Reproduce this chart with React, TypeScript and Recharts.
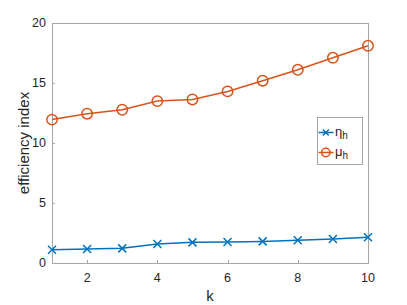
import React from "react";
import { LineChart, Line, XAxis, YAxis, Legend, ReferenceArea } from "recharts";

const K = [1, 2, 3, 4, 5, 6, 7, 8, 9, 10];
const ETA = [1.11, 1.17, 1.22, 1.58, 1.72, 1.75, 1.8, 1.89, 2.0, 2.14];
const MU = [11.95, 12.44, 12.77, 13.49, 13.63, 14.3, 15.19, 16.1, 17.1, 18.1];
const X_TICKS = [2, 4, 6, 8, 10];
const Y_TICKS = [0, 5, 10, 15, 20];

const BLUE = "#0072BD";
const ORANGE = "#D95319";
const AXIS = "#a6a6a6";
const TXT = "#262626";
const FONT = "'Liberation Sans', Arial, Helvetica, sans-serif";

const rows = K.map((k, i) => ({ k, eta: ETA[i], mu: MU[i] }));

const Cross = (props: any) => {
  const { cx, cy, index } = props;
  if (cx == null || cy == null) return <g key={index} />;
  const s = 4;
  return (
    <path key={index} d={`M${cx - s},${cy - s}L${cx + s},${cy + s}M${cx - s},${cy + s}L${cx + s},${cy - s}`}
      stroke={BLUE} strokeWidth={1.5} fill="none" />
  );
};

const Ring = (props: any) => {
  const { cx, cy, index } = props;
  if (cx == null || cy == null) return <g key={index} />;
  return <circle key={index} cx={cx} cy={cy} r={5.2} stroke={ORANGE} strokeWidth={1.5} fill="none" />;
};

// axes box drawn as thin filled rects (matlab "box on")
const Frame = (p: any) => {
  const x = Math.round(p.x), y = Math.round(p.y);
  const w = Math.round(p.width), h = Math.round(p.height);
  return (
    <g>
      <rect x={x} y={y} width={w + 1} height={1} fill={AXIS} />
      <rect x={x} y={y + h} width={w + 1} height={1} fill={AXIS} />
      <rect x={x} y={y} width={1} height={h + 1} fill={AXIS} />
      <rect x={x + w} y={y} width={1} height={h + 1} fill={AXIS} />
    </g>
  );
};

// inward tick marks + labels
const BottomTick = (p: any) => (
  <g>
    <rect x={Math.round(p.x)} y={p.y - 3} width={1} height={3} fill={AXIS} />
    <text x={p.x} y={p.y + 10} dy="0.71em" textAnchor="middle" fontSize={12.5} fill={TXT} fontFamily={FONT}>
      {p.payload.value}
    </text>
  </g>
);
const LeftTick = (p: any) => (
  <g>
    <rect x={p.x} y={Math.round(p.y)} width={3} height={1} fill={AXIS} />
    <text x={p.x - 6} y={p.y} dy="0.355em" textAnchor="end" fontSize={12.5} fill={TXT} fontFamily={FONT}>
      {p.payload.value}
    </text>
  </g>
);
const TopTick = (p: any) => <rect x={Math.round(p.x)} y={p.y} width={1} height={3} fill={AXIS} />;
const RightTick = (p: any) => <rect x={p.x - 3} y={Math.round(p.y)} width={3} height={1} fill={AXIS} />;

const renderLegend = () => (
  <div style={{ width: 44, height: 46, border: `1px solid ${AXIS}`, background: "#fff" }}>
    <svg width={44} height={46} style={{ display: "block" }}>
      <line x1={0.5} x2={15.5} y1={14.5} y2={14.5} stroke={BLUE} strokeWidth={1.5} />
      <path d="M4.8,11.5L10.8,17.5M4.8,17.5L10.8,11.5" stroke={BLUE} strokeWidth={1.5} />
      <text x={17} y={18} fontSize={13} fill={TXT} fontFamily={FONT}>
        η<tspan dy={3} fontSize={10}>h</tspan>
      </text>
      <line x1={0.5} x2={15.5} y1={34.5} y2={34.5} stroke={ORANGE} strokeWidth={1.5} />
      <circle cx={7.8} cy={34.5} r={4.2} stroke={ORANGE} strokeWidth={1.5} fill="none" />
      <text x={17} y={38} fontSize={13} fill={TXT} fontFamily={FONT}>
        μ<tspan dy={3} fontSize={10}>h</tspan>
      </text>
    </svg>
  </div>
);

const yLabel = (props: any) => {
  const vb = props.viewBox || {};
  const cy = (vb.y ?? 23) + (vb.height ?? 240) / 2;
  return (
    <text x={0} y={0} transform={`translate(23,${cy}) rotate(-90)`} textAnchor="middle" dominantBaseline="central"
      fontSize={15} fill={TXT} fontFamily={FONT}>
      efficiency index
    </text>
  );
};

export default function App() {
  return (
    <div style={{ position: "absolute", left: 0, top: 0, background: "#fff" }}>
      <LineChart width={407} height={305} data={rows} margin={{ top: 23, right: 39, left: 0, bottom: 0 }}
        style={{ fontFamily: FONT }}>
        <XAxis dataKey="k" type="number" domain={[1, 10]} ticks={X_TICKS} height={42}
          axisLine={false} tickLine={false} tickSize={0} tickMargin={0} tick={BottomTick}
          label={{ value: "k", position: "insideBottom", offset: 4, fill: TXT, fontSize: 15 }} />
        <XAxis xAxisId="top" orientation="top" dataKey="k" type="number" domain={[1, 10]} ticks={X_TICKS}
          height={0} axisLine={false} tickLine={false} tickSize={0} tickMargin={0} tick={TopTick} />
        <YAxis type="number" domain={[0, 20]} ticks={Y_TICKS} width={52}
          axisLine={false} tickLine={false} tickSize={0} tickMargin={0} tick={LeftTick} label={yLabel} />
        <YAxis yAxisId="right" orientation="right" type="number" domain={[0, 20]} ticks={Y_TICKS}
          width={0} axisLine={false} tickLine={false} tickSize={0} tickMargin={0} tick={RightTick} />
        <ReferenceArea x1={1} x2={10} y1={0} y2={20} ifOverflow="visible" shape={Frame} />
        <Line dataKey="eta" stroke={BLUE} strokeWidth={1.5} dot={Cross} isAnimationActive={false} />
        <Line dataKey="mu" stroke={ORANGE} strokeWidth={1.5} dot={Ring} isAnimationActive={false} />
        <Legend content={renderLegend} layout="horizontal" verticalAlign="middle" align="center"
          wrapperStyle={{ left: 317, top: 117, width: 46, height: 48 }} />
      </LineChart>
    </div>
  );
}
